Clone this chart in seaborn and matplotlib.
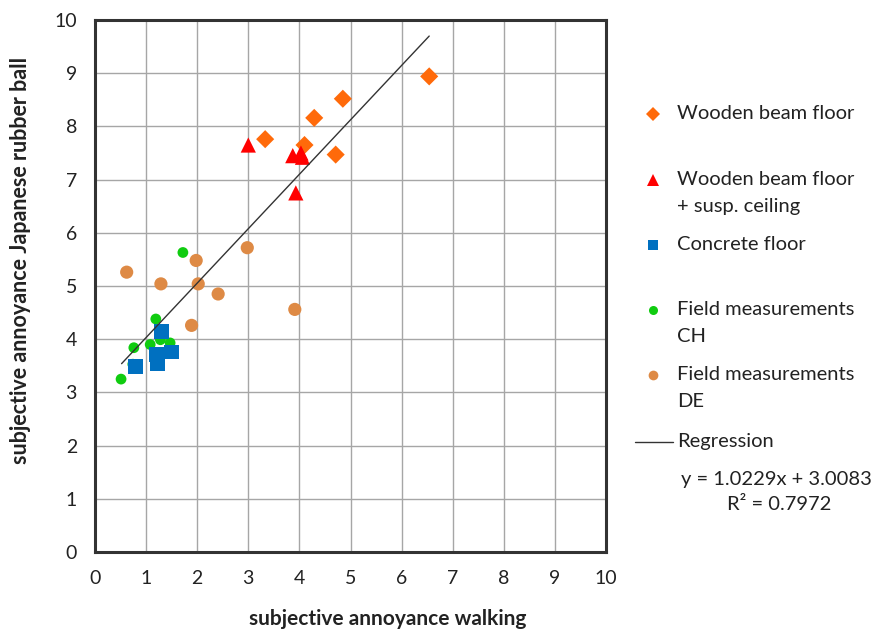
import matplotlib
matplotlib.use("Agg")
import matplotlib.pyplot as plt
import seaborn as sns
import pandas as pd
import numpy as np
from matplotlib.lines import Line2D

# ---- data ----
wood_x = [3.33, 4.10, 4.29, 4.85, 4.71, 6.54]
wood_y = [7.76, 7.65, 8.16, 8.52, 7.47, 8.94]
susp_x = [3.00, 3.87, 4.03, 4.06, 3.93]
susp_y = [7.65, 7.45, 7.50, 7.42, 6.75]
conc_x = [1.31, 1.50, 1.21, 1.23, 0.80]
conc_y = [4.15, 3.76, 3.71, 3.54, 3.49]
ch_x = [1.72, 1.19, 1.28, 1.47, 1.08, 0.76, 0.74, 0.51]
ch_y = [5.63, 4.38, 3.99, 3.93, 3.90, 3.84, 3.53, 3.25]
de_x = [1.98, 0.62, 2.98, 1.29, 2.02, 2.41, 1.89, 3.91]
de_y = [5.48, 5.26, 5.72, 5.04, 5.04, 4.85, 4.26, 4.56]
slope, intercept = 1.0229, 3.0083
reg_x = [0.52, 6.54]
ticks = list(range(0, 11))

groups = ["Wooden beam floor", "Wooden beam floor\n+ susp. ceiling", "Concrete floor",
          "Field measurements\nCH", "Field measurements\nDE"]
colors = ["#FF6A0A", "#FF0000", "#0070C0", "#10CC10", "#DE8A45"]
markers = ["D", "^", "s", "o", "o"]
sizes = [85, 120, 115, 60, 90]

xs = [wood_x, susp_x, conc_x, ch_x, de_x]
ys = [wood_y, susp_y, conc_y, ch_y, de_y]
df = pd.concat([pd.DataFrame({"x": x, "y": y, "g": g}) for x, y, g in zip(xs, ys, groups)],
               ignore_index=True)

sns.set_style("white")
plt.rcParams['font.family'] = ['Lato', 'DejaVu Sans']

W, H = 876, 633
fig = plt.figure(figsize=(W / 100, H / 100), dpi=100)
L, R, T, B = 95, 606, 20, 552
ax = fig.add_axes([L / W, 1 - B / H, (R - L) / W, (B - T) / H])

order = [4, 3, 2, 0, 1]
for i in order:
    sub = df[df["g"] == groups[i]]
    sns.scatterplot(data=sub, x="x", y="y", ax=ax, color=colors[i], marker=markers[i],
                    s=sizes[i], edgecolor="none", linewidth=0, zorder=3, legend=False)

rx = np.array(reg_x)
ax.plot(rx, slope * rx + intercept, color="#333333", lw=1.0, zorder=4)

ax.set_xlim(0, 10)
ax.set_ylim(0, 10)
ax.set_xticks(ticks)
ax.set_yticks(ticks)
ax.set_xticklabels([str(t) for t in ticks], fontsize=14, color="#222222")
ax.set_yticklabels([str(t) for t in ticks], fontsize=14, color="#222222")
ax.tick_params(axis="x", length=0, pad=13)
ax.tick_params(axis="y", length=0, pad=13)
ax.grid(True, color="#A6A6A6", lw=1.0)
ax.set_axisbelow(True)
for s in ax.spines.values():
    s.set_color("#333333")
    s.set_linewidth(2.2)
ax.set_xlabel("subjective annoyance walking", fontsize=15, fontweight="bold",
              color="#222222")
ax.set_ylabel("subjective annoyance Japanese rubber ball", fontsize=15.5, fontweight="bold",
              color="#222222")
ax.xaxis.set_label_coords((388 - L) / (R - L), -(609 - B) / (B - T))
ax.yaxis.set_label_coords(-(L - 31) / (R - L), (B - 260) / (B - T))

# ---- manual legend ----
def fx(px):
    return px / W

def fy(py):
    return 1 - py / H

leg_y = [114, 180, 245, 310, 375]
leg_ms = [7, 8, 7.5, 6.5, 7]
for i, yy in enumerate(leg_y):
    fig.add_artist(Line2D([fx(653)], [fy(yy)], marker=markers[i], color=colors[i],
                          markersize=leg_ms[i], markeredgewidth=0, linestyle="none"))
    fig.text(fx(677), fy(yy - 9), groups[i], fontsize=14.5, va="top", ha="left",
             linespacing=1.72, color="#222222")
fig.add_artist(Line2D([fx(635), fx(673)], [fy(442), fy(442)], color="#333333", lw=1.0))
fig.text(fx(677), fy(442), "Regression", fontsize=14.5, va="center", ha="left", color="#222222")
fig.text(fx(776), fy(479), "y = 1.0229x + 3.0083", fontsize=14.5, va="center", ha="center",
         color="#222222")
fig.text(fx(779), fy(504), "R² = 0.7972", fontsize=14.5, va="center", ha="center",
         color="#222222")

fig.savefig("out.png", dpi=100, facecolor="white")
